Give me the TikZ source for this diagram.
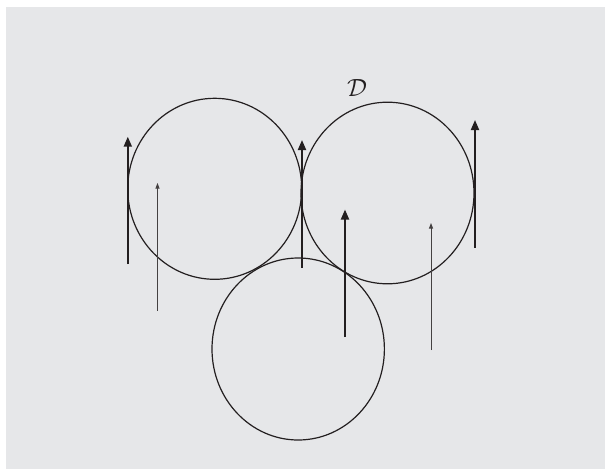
\documentclass[tikz,border=0pt]{standalone}
\usepackage{amsmath,amsfonts}
\usepackage{xcolor}
\usepackage{tikz}
\usetikzlibrary{arrows.meta}
\definecolor{panel}{HTML}{E6E7E9}
\definecolor{ink}{HTML}{231F20}
\tikzset{
  disc/.style={draw=ink, line width=1.2pt},
  bigvec/.style={draw=ink, line width=1.9pt, -{Triangle[length=10pt,width=8pt]}},
  smallvec/.style={draw=ink!85, line width=0.9pt, -{Triangle[length=5.5pt,width=4pt]}}
}
\begin{document}
\begin{tikzpicture}[x=1pt,y=-1pt]
  \useasboundingbox (0,0) rectangle (605,471);
  % background panel
  \fill[panel] (6,7) rectangle (605,469);
  % the three discs
  \draw[disc] (214.7,188.8) ellipse [x radius=87, y radius=90.5];
  \draw[disc] (387.5,193) ellipse [x radius=86.5, y radius=90.8];
  \draw[disc] (298.2,349) ellipse [x radius=86.2, y radius=91];
  % label
  \node[text=ink, font=\fontsize{26}{26}\selectfont] (dlab) at (357,88) {$\mathcal{D}$};
  % thick vectors
  \foreach \x/\yb/\yt [count=\i] in {127.8/264/136.7, 302/267.5/140, 345/337/209.5, 475/247.6/120}
    \draw[bigvec] (\x,\yb) coordinate (b\i) -- (\x,\yt) coordinate (t\i);
  % thin vectors
  \foreach \x/\yb/\yt [count=\i] in {157.5/310.5/183, 431/350/223}
    \draw[smallvec] (\x,\yb) coordinate (sb\i) -- (\x,\yt) coordinate (st\i);
\end{tikzpicture}
\end{document}
